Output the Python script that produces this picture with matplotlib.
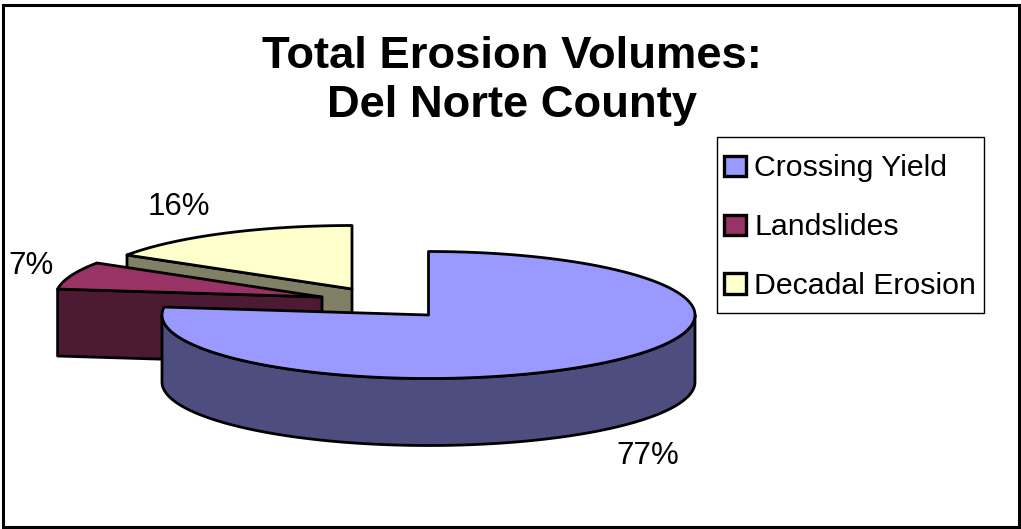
import numpy as np
import matplotlib
matplotlib.use("Agg")
import matplotlib.pyplot as plt
from matplotlib.patches import Polygon, Patch, Rectangle

plt.rcParams['font.family'] = ['Liberation Sans', 'DejaVu Sans']

categories = ["Crossing Yield", "Landslides", "Decadal Erosion"]
values = [77, 7, 16]
top_colors = ["#9999FF", "#993366", "#FFFFCC"]
side_colors = ["#4D4D80", "#4D1A33", "#808066"]
title_text = "Total Erosion Volumes:\nDel Norte County"

# geometry of the projected pie, in pixels
centers = [(428.5, 315), (322, 297), (352, 289)]
RX, RY, DEPTH = 266.5, 63.5, 67
LW = 2.0
label_pos = [(648, 456), (31, 266), (179, 207)]

fig = plt.figure(figsize=(10.21, 5.29), dpi=100, facecolor="white")
ax = fig.add_axes([0, 0, 1, 1])
ax.set_xlim(0, 1021)
ax.set_ylim(529, 0)
ax.axis("off")

ax.add_patch(Rectangle((2.5, 4.5), 1016.5, 522.5, fill=False, ec="black", lw=2.2, zorder=0))


def rim(center, a0, a1, n=200):
    a = np.radians(np.linspace(a0, a1, n))
    return np.column_stack([center[0] + RX * np.sin(a), center[1] - RY * np.cos(a)])


fractions = np.array(values) / sum(values)
edges = np.concatenate([[0], np.cumsum(fractions) * 360])

z = 2
for i in [2, 1, 0]:
    c, a0, a1 = centers[i], edges[i], edges[i + 1]
    arc = rim(c, a0, a1)
    down = np.array([0, DEPTH])
    style = dict(ec="black", lw=LW, joinstyle="round")
    # cut face that looks towards the viewer (edge at the wedge's start angle)
    if i != 0:
        p0 = np.array(c, float)
        p1 = arc[0]
        ax.add_patch(Polygon([p0, p1, p1 + down, p0 + down], fc=side_colors[i], zorder=z, **style))
    # outer wall, only its front half is visible
    f0, f1 = max(a0, 90), min(a1, 270)
    if f1 > f0:
        front = rim(c, f0, f1)
        ax.add_patch(Polygon(np.vstack([front, (front + down)[::-1]]), fc=side_colors[i], zorder=z, **style))
    # top face
    ax.add_patch(Polygon(np.vstack([[c], arc]), fc=top_colors[i], zorder=z + 1, **style))
    z += 2

for v, (x, y) in zip(values, label_pos):
    ax.text(x, y, f"{v}%", ha="center", va="center", fontsize=22.5, color="black", zorder=20)

ax.text(512, 80.5, title_text, ha="center", va="center", fontsize=32.7, fontweight="bold",
        linespacing=1.25, zorder=20)

# legend frame and entries
ax.add_patch(Rectangle((717, 137), 267, 176, fc="white", ec="black", lw=1.0, zorder=19))
handles = [Patch(fc=top_colors[i], ec="black", lw=2.4) for i in range(3)]
leg = ax.legend(handles, categories, loc="upper left", bbox_to_anchor=(724, 154.5),
                bbox_transform=ax.transData, borderaxespad=0, fontsize=21.8, frameon=False,
                labelspacing=1.02, handlelength=0.73, handleheight=0.66,
                handletextpad=0.27, borderpad=0)
leg.set_zorder(20)

fig.savefig("out.png", dpi=100)
